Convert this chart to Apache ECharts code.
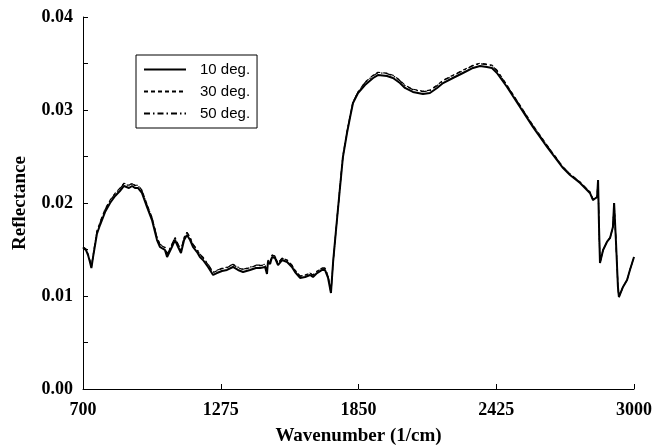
<!DOCTYPE html>
<html>
<head>
<meta charset="utf-8">
<script src="https://cdn.jsdelivr.net/npm/echarts@6/dist/echarts.min.js"></script>
<style>html,body{margin:0;padding:0;background:#fff;}#c{width:654px;height:445px;}</style>
</head>
<body>
<div id="c"></div>
<script>
const wavenumber = [700,712,721,729,735,742,758,771,792,813,834,854,871,879,892,905,917,930,946,967,988,1009,1021,1042,1051,1071,1084,1097,1109,1122,1134,1147,1159,1176,1188,1201,1222,1243,1259,1280,1301,1326,1347,1368,1397,1422,1439,1460,1468,1472,1481,1489,1501,1514,1531,1552,1572,1585,1606,1627,1648,1660,1677,1698,1710,1723,1735,1744,1760,1773,1785,1802,1815,1827,1848,1877,1911,1931,1969,1994,2023,2044,2077,2119,2148,2178,2203,2244,2286,2328,2357,2386,2407,2428,2470,2524,2578,2637,2704,2733,2775,2816,2829,2846,2850,2854,2858,2871,2887,2900,2912,2917,2925,2933,2937,2954,2971,2983,3000];

const deg10 = [0.01516,0.01495,0.01441,0.01366,0.01301,0.01419,0.01667,0.01763,0.01903,0.02000,0.02075,0.02129,0.02183,0.02194,0.02161,0.02183,0.02161,0.02161,0.02108,0.01957,0.01817,0.01602,0.01527,0.01495,0.01419,0.01527,0.01602,0.01527,0.01462,0.01602,0.01656,0.01602,0.01527,0.01473,0.01419,0.01387,0.01312,0.01226,0.01247,0.01269,0.01280,0.01312,0.01280,0.01258,0.01280,0.01301,0.01301,0.01312,0.01237,0.01366,0.01344,0.01419,0.01409,0.01333,0.01387,0.01366,0.01312,0.01258,0.01194,0.01204,0.01226,0.01204,0.01247,0.01280,0.01280,0.01194,0.01032,0.01366,0.01817,0.02172,0.02495,0.02753,0.02925,0.03075,0.03183,0.03269,0.03344,0.03376,0.03366,0.03344,0.03290,0.03237,0.03194,0.03172,0.03183,0.03237,0.03290,0.03344,0.03398,0.03452,0.03473,0.03462,0.03452,0.03398,0.03247,0.03032,0.02817,0.02602,0.02376,0.02301,0.02215,0.02108,0.02032,0.02065,0.02247,0.01742,0.01355,0.01495,0.01581,0.01624,0.01742,0.02000,0.01570,0.01097,0.00989,0.01097,0.01172,0.01280,0.01419];

const deg30 = [0.01526,0.01505,0.01451,0.01376,0.01311,0.01429,0.01697,0.01793,0.01933,0.02030,0.02105,0.02159,0.02213,0.02224,0.02191,0.02213,0.02191,0.02191,0.02138,0.01987,0.01847,0.01627,0.01552,0.01520,0.01444,0.01552,0.01627,0.01552,0.01487,0.01627,0.01681,0.01627,0.01552,0.01498,0.01444,0.01412,0.01337,0.01251,0.01272,0.01294,0.01305,0.01337,0.01305,0.01283,0.01305,0.01326,0.01326,0.01337,0.01257,0.01386,0.01364,0.01439,0.01429,0.01353,0.01407,0.01386,0.01332,0.01278,0.01214,0.01224,0.01246,0.01224,0.01267,0.01300,0.01300,0.01214,0.01032,0.01366,0.01817,0.02182,0.02505,0.02763,0.02935,0.03085,0.03193,0.03299,0.03374,0.03406,0.03396,0.03374,0.03320,0.03267,0.03224,0.03202,0.03213,0.03267,0.03320,0.03374,0.03428,0.03482,0.03503,0.03492,0.03482,0.03428,0.03267,0.03052,0.02837,0.02622,0.02386,0.02311,0.02225,0.02118,0.02032,0.02065,0.02247,0.01742,0.01355,0.01495,0.01581,0.01624,0.01742,0.02000,0.01570,0.01097,0.00989,0.01097,0.01172,0.01280,0.01419];

const deg50 = [0.01526,0.01505,0.01451,0.01376,0.01311,0.01429,0.01692,0.01788,0.01928,0.02025,0.02100,0.02154,0.02208,0.02219,0.02186,0.02208,0.02186,0.02186,0.02133,0.01982,0.01842,0.01632,0.01557,0.01525,0.01449,0.01557,0.01632,0.01557,0.01492,0.01632,0.01686,0.01632,0.01557,0.01503,0.01449,0.01417,0.01342,0.01256,0.01277,0.01299,0.01310,0.01342,0.01310,0.01288,0.01310,0.01331,0.01331,0.01342,0.01257,0.01386,0.01364,0.01439,0.01429,0.01353,0.01407,0.01386,0.01332,0.01278,0.01214,0.01224,0.01246,0.01224,0.01267,0.01300,0.01300,0.01214,0.01032,0.01366,0.01817,0.02182,0.02505,0.02763,0.02935,0.03085,0.03193,0.03294,0.03369,0.03401,0.03391,0.03369,0.03315,0.03262,0.03219,0.03197,0.03208,0.03262,0.03315,0.03369,0.03423,0.03477,0.03498,0.03487,0.03477,0.03423,0.03262,0.03047,0.02832,0.02617,0.02386,0.02311,0.02225,0.02118,0.02032,0.02065,0.02247,0.01742,0.01355,0.01495,0.01581,0.01624,0.01742,0.02000,0.01570,0.01097,0.00989,0.01097,0.01172,0.01280,0.01419];

const seriesNames = ['10 deg.', '30 deg.', '50 deg.'];
const xTicks = [700, 1275, 1850, 2425, 3000];
const yTicks = [0.00, 0.01, 0.02, 0.03, 0.04];

function pairs(ys) { return wavenumber.map((x, i) => [x, ys[i]]); }

const serif = 'Liberation Serif, Times New Roman, serif';
const chart = echarts.init(document.getElementById('c'), null, {renderer: 'canvas'});
chart.setOption({
  animation: false,
  backgroundColor: '#fff',
  color: ['#000', '#000', '#000'],
  grid: {left: 83, right: 20, top: 17, bottom: 56, containLabel: false, outerBoundsMode: 'none'},
  legend: {
    orient: 'vertical', left: 136, top: 55,
    data: seriesNames,
    itemWidth: 42, itemHeight: 14, itemGap: 7,
    padding: [7, 7, 7, 7],
    borderColor: '#000', borderWidth: 1, borderRadius: 0,
    itemStyle: {opacity: 0},
    textStyle: {fontFamily: 'Liberation Sans, Arial, sans-serif', fontSize: 15, color: '#000', padding: [0, 0, 0, 9]}
  },
  xAxis: {
    type: 'value', min: xTicks[0], max: xTicks[xTicks.length - 1], interval: xTicks[1] - xTicks[0],
    name: 'Wavenumber (1/cm)', nameLocation: 'middle', nameGap: 38,
    nameTextStyle: {fontFamily: serif, fontWeight: 'bold', fontSize: 19, color: '#000'},
    axisLine: {lineStyle: {color: '#000', width: 1}},
    axisTick: {inside: true, length: 5, lineStyle: {color: '#000'}},
    axisLabel: {fontFamily: serif, fontWeight: 'bold', fontSize: 18, color: '#000', margin: 12,
      formatter: v => String(v)},
    splitLine: {show: false}
  },
  yAxis: {
    type: 'value', min: yTicks[0], max: yTicks[yTicks.length - 1], interval: 0.005,
    name: 'Reflectance', nameLocation: 'middle', nameGap: 53, nameRotate: 90,
    nameTextStyle: {fontFamily: serif, fontWeight: 'bold', fontSize: 19, color: '#000'},
    axisLine: {show: true, lineStyle: {color: '#000', width: 1}},
    axisTick: {show: true, inside: true, length: 5, lineStyle: {color: '#000'}},
    axisLabel: {
      fontFamily: serif, fontWeight: 'bold', fontSize: 18, color: '#000', margin: 10,
      formatter: v => (Math.round(v * 1000) % 10 === 0 ? v.toFixed(2) : '')
    },
    splitLine: {show: false}
  },
  series: [
    {name: seriesNames[2], type: 'line', data: pairs(deg50), symbol: 'none', showSymbol: false, z: 2,
     itemStyle: {color: '#000'},
     lineStyle: {color: '#000', width: 1.2, type: [6, 3, 1.5, 3]}},
    {name: seriesNames[1], type: 'line', data: pairs(deg30), symbol: 'none', showSymbol: false, z: 3,
     itemStyle: {color: '#000'},
     lineStyle: {color: '#000', width: 1.2, type: [4, 3]}},
    {name: seriesNames[0], type: 'line', data: pairs(deg10), symbol: 'none', showSymbol: false, z: 4,
     itemStyle: {color: '#000'},
     lineStyle: {color: '#000', width: 2}}
  ]
});
</script>
</body>
</html>
